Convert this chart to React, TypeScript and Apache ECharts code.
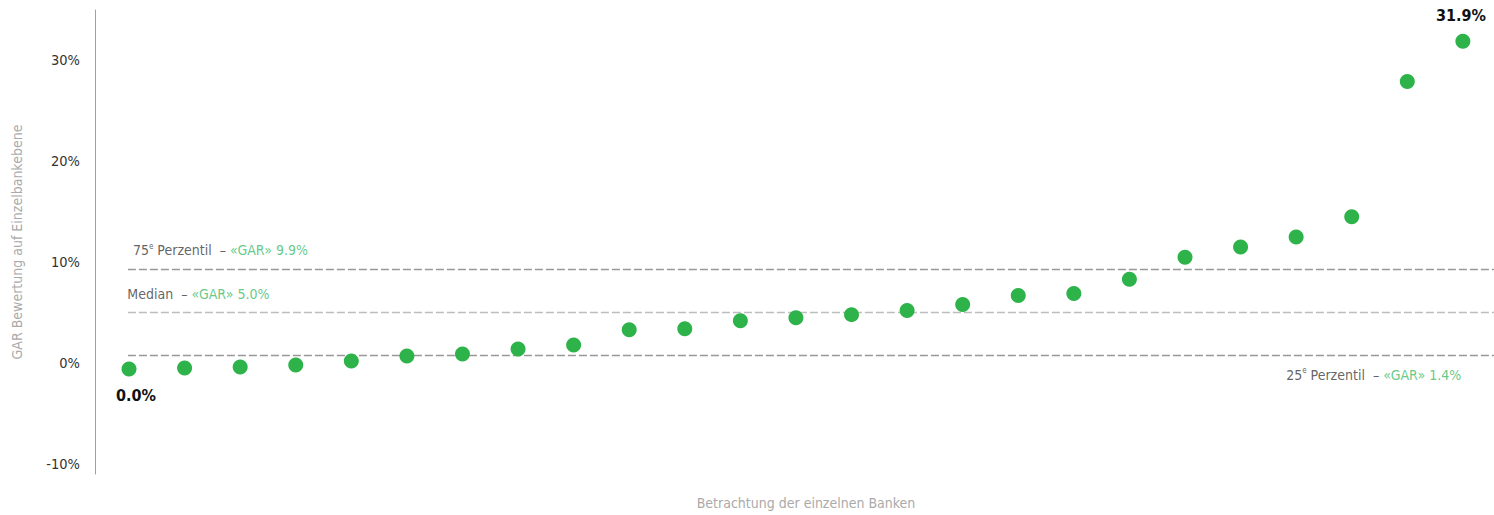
import React, { useEffect, useRef } from "react";
import * as echarts from "echarts";

const banks = [1, 2, 3, 4, 5, 6, 7, 8, 9, 10, 11, 12, 13, 14, 15, 16, 17, 18, 19, 20, 21, 22, 23, 24, 25];
const garValues = [-0.6, -0.5, -0.4, -0.2, 0.2, 0.7, 0.9, 1.4, 1.8, 3.3, 3.4, 4.2, 4.5, 4.8, 5.2, 5.8, 6.7, 6.9, 8.3, 10.5, 11.5, 12.5, 14.5, 27.9, 31.9];
const pointLabels: Record<number, { text: string; pos: string; offset: number[] }> = {
  0: { text: "0.0%", pos: "bottom", offset: [7, 0] },
  24: { text: "31.9%", pos: "top", offset: [-2, 0] },
};
const refLines = [
  { name: "75e", value: 9.3, color: "#999999" },
  { name: "median", value: 5.05, color: "#bdbdbd" },
  { name: "25e", value: 0.8, color: "#999999" },
];
const yTicks = [-10, 0, 10, 20, 30];

const FONT = "'DejaVu Sans Condensed', 'Liberation Sans Narrow', 'Open Sans', sans-serif";
const GREEN_TEXT = "#3dba6a";

export default function App() {
  const ref = useRef<HTMLDivElement>(null);
  useEffect(() => {
    if (!ref.current) return;
    const chart = echarts.init(ref.current, null, { renderer: "svg" });
    const xMax = 25.56;
    const rich = {
      d: { color: "#3a3a3a", fontSize: 14, fontFamily: FONT },
      s: { color: "#3a3a3a", fontSize: 8, fontFamily: FONT, verticalAlign: "top", padding: [0, 0, 8, 0] },
      g: { color: GREEN_TEXT, fontSize: 14, fontFamily: FONT },
    };
    chart.setOption({
      animation: false,
      grid: { left: 95, right: 0, top: 10, bottom: 41, containLabel: false },
      xAxis: {
        type: "value",
        min: 0.388,
        max: xMax,
        show: false,
      },
      yAxis: {
        type: "value",
        min: -11,
        max: 35,
        interval: 1,
        name: "GAR Bewertung auf Einzelbankebene",
        nameLocation: "middle",
        nameGap: 71,
        nameTextStyle: { color: "#aaaaaa", fontSize: 14, fontFamily: FONT },
        axisLine: { show: true, lineStyle: { color: "#a0a0a0", width: 1 } },
        axisTick: { show: false },
        splitLine: { show: false },
        axisLabel: {
          color: "#333",
          fontSize: 14.5,
          fontFamily: FONT,
          margin: 15,
          showMinLabel: true,
          showMaxLabel: false,
          interval: 0,
          formatter: (v: number) => (yTicks.includes(Math.round(v)) && Math.abs(v - Math.round(v)) < 1e-6 ? `${Math.round(v)}%` : ""),
        },
      },
      graphic: [
        {
          type: "text",
          x: 806,
          y: 503,
          style: { text: "Betrachtung der einzelnen Banken", fill: "#aaaaaa", fontSize: 14, fontFamily: FONT, align: "center", verticalAlign: "middle" },
        },
      ],
      series: [
        {
          type: "line",
          data: [],
          silent: true,
          markLine: {
            symbol: "none",
            silent: true,
            label: { show: false },
            data: refLines.map((l) => [
              { coord: [0.98, l.value], lineStyle: { color: l.color, type: [8, 3], width: 1.3 } },
              { coord: [xMax, l.value] },
            ]),
          },
        },
        {
          type: "scatter",
          symbolSize: 15,
          itemStyle: { color: "#2db34a", opacity: 1 },
          z: 5,
          data: banks.map((b, i) => {
            const item: any = { value: [b, garValues[i]] };
            const pl = pointLabels[i];
            if (pl) {
              item.label = {
                show: true,
                position: pl.pos,
                distance: pl.pos === "bottom" ? 11 : 10,
                offset: pl.offset,
                formatter: pl.text,
                color: "#111",
                fontWeight: "bold",
                fontSize: 16,
                fontFamily: FONT,
              };
            }
            return item;
          }),
        },
        {
          type: "scatter",
          symbolSize: 0,
          silent: true,
          data: [
            { value: [1.07, 9.3], label: { show: true, position: "right", distance: 0, offset: [0, -19], formatter: "{d|75}{s|e}{d| Perzentil  – }{g|«GAR» 9.9%}", rich } },
            { value: [0.97, 5.05], label: { show: true, position: "right", distance: 0, offset: [0, -18], formatter: "{d|Median  – }{g|«GAR» 5.0%}", rich } },
            { value: [21.82, 0.8], label: { show: true, position: "right", distance: 0, offset: [0, 20], formatter: "{d|25}{s|e}{d| Perzentil  – }{g|«GAR» 1.4%}", rich } },
          ],
        },
      ],
    });
    return () => chart.dispose();
  }, []);
  return <div ref={ref} style={{ width: 1494, height: 515, position: "absolute", left: 0, top: 0 }} />;
}
